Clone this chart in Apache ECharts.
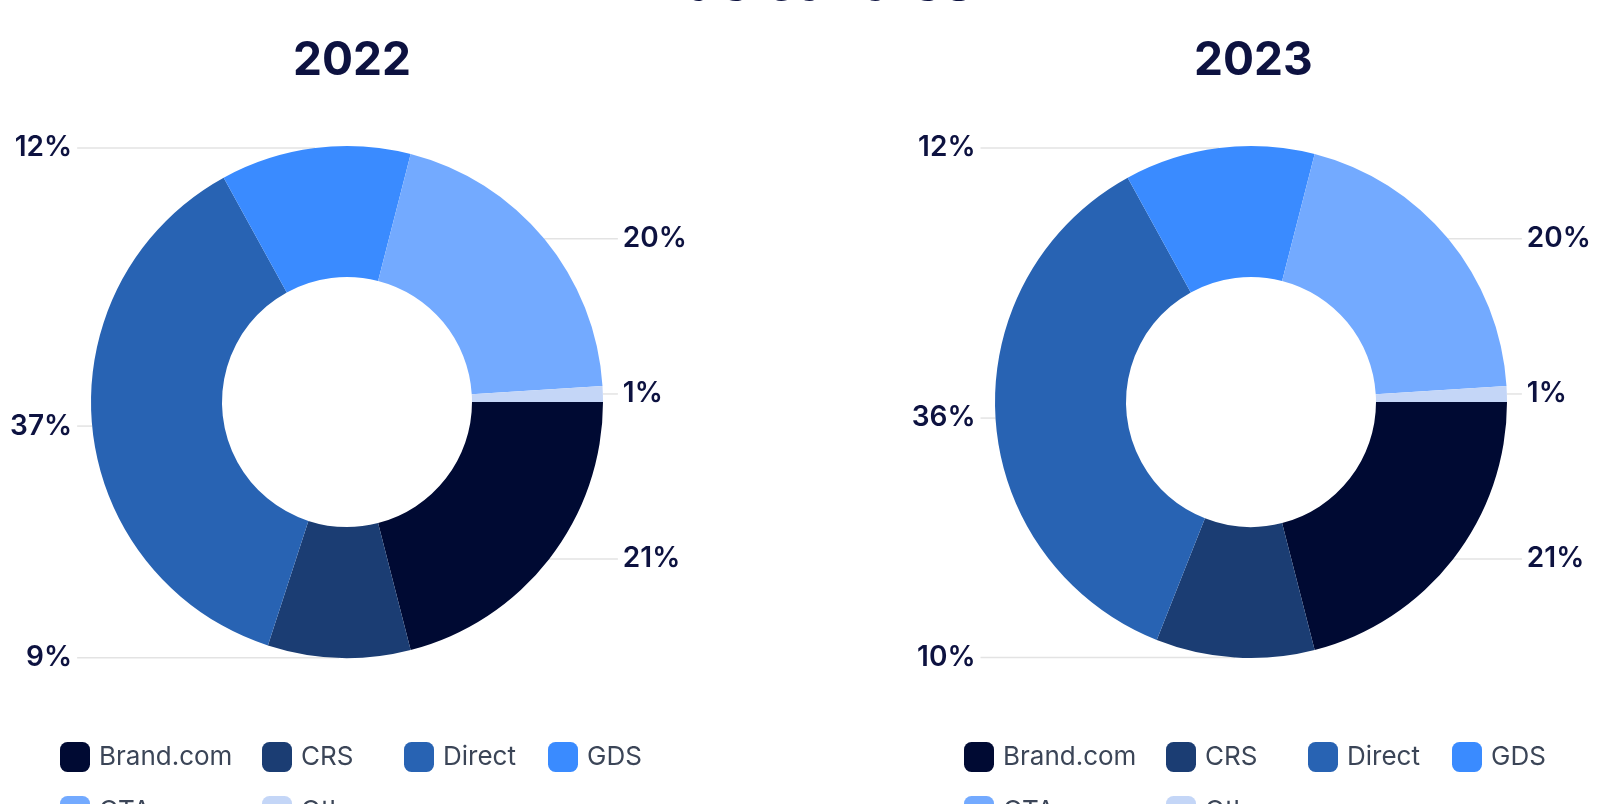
<!DOCTYPE html>
<html>
<head>
<meta charset="utf-8">
<script src="https://cdn.jsdelivr.net/npm/echarts@6/dist/echarts.min.js"></script>
<style>
html,body{margin:0;padding:0;background:#fff;}
#chart{width:1600px;height:804px;}
</style>
</head>
<body>
<div id="chart"></div>
<script>
const chartTitle = 'Mix de canales';
const years = ['2022', '2023'];
const categories = ['Brand.com', 'CRS', 'Direct', 'GDS', 'OTA', 'Other'];
const values2022 = [21, 9, 37, 12, 20, 1];
const values2023 = [21, 10, 36, 12, 20, 1];
const colors = ['#000a33', '#1b3d73', '#2863b3', '#3a8bff', '#73aaff', '#c4d6f7'];

const FONT = 'Inter, "Noto Sans", sans-serif';
const NAVY = '#0d1240';

const chart = echarts.init(document.getElementById('chart'));

const viewports = [{ left: 0 }, { left: 904 }];
const seriesValues = [values2022, values2023];

function pieSeries(i) {
  return {
    type: 'pie',
    name: years[i],
    left: viewports[i].left,
    top: 0,
    width: 694,
    height: 804,
    center: ['50%', 402],
    radius: [125, 256],
    startAngle: 0,
    clockwise: true,
    avoidLabelOverlap: true,
    emphasis: { disabled: true },
    label: {
      show: true,
      formatter: '{c}%',
      alignTo: 'labelLine',
      edgeDistance: 8,
      overflow: 'none',
      color: NAVY,
      fontFamily: FONT,
      fontSize: 28,
      fontWeight: 600
    },
    labelLine: {
      show: true,
      length: 0,
      length2: 15,
      lineStyle: { color: '#e3e3e3', width: 1.5 }
    },
    data: categories.map((c, k) => ({ name: c, value: seriesValues[i][k], itemStyle: { color: colors[k] } }))
  };
}

// legend item slots (relative to each chart): column x, row y
const legendSlots = [
  { name: categories[0], dx: 60, top: 742 },
  { name: categories[1], dx: 262, top: 742 },
  { name: categories[2], dx: 404, top: 742 },
  { name: categories[3], dx: 548, top: 742 },
  { name: categories[4], dx: 60, top: 796 },
  { name: categories[5], dx: 262, top: 796 }
];
const legendOffsets = [0, 904];
const legends = [];
legendOffsets.forEach(off => {
  legendSlots.forEach(s => {
    legends.push({
      orient: 'horizontal',
      left: off + s.dx,
      top: s.top,
      padding: 0,
      itemWidth: 30,
      itemHeight: 30,
      icon: 'roundRect',
      selectedMode: false,
      data: [s.name],
      textStyle: { color: '#3b4557', fontFamily: FONT, fontSize: 26, padding: [0, 0, 0, 4] }
    });
  });
});

chart.setOption({
  animation: false,
  backgroundColor: '#ffffff',
  title: [
    { text: chartTitle, left: 573, top: -44, padding: 0,
      textStyle: { color: NAVY, fontFamily: FONT, fontSize: 55, fontWeight: 700 } },
    { text: years[0], left: 293, top: 38, padding: 0,
      textStyle: { color: NAVY, fontFamily: FONT, fontSize: 46, fontWeight: 700 } },
    { text: years[1], left: 1194, top: 38, padding: 0,
      textStyle: { color: NAVY, fontFamily: FONT, fontSize: 46, fontWeight: 700 } }
  ],
  legend: legends,
  series: [pieSeries(0), pieSeries(1)]
});
</script>
</body>
</html>
